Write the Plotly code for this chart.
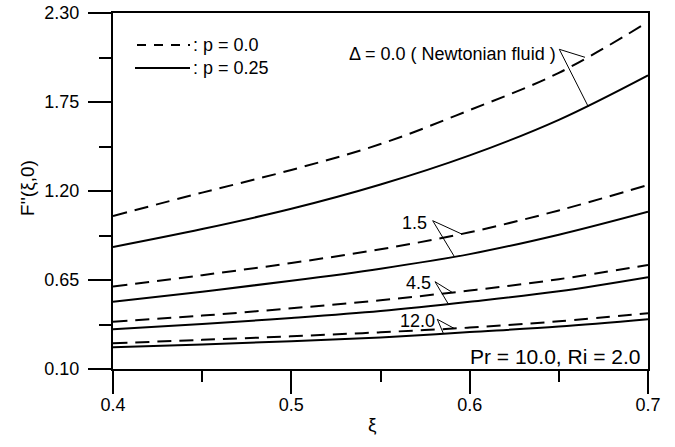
import plotly.graph_objects as go

xi = [0.40, 0.45, 0.50, 0.55, 0.60, 0.65, 0.70]

# p = 0.0 (dashed)
d00_p0 = [1.046, 1.19, 1.33, 1.49, 1.70, 1.93, 2.245]
d15_p0 = [0.609, 0.68, 0.755, 0.84, 0.945, 1.08, 1.237]
d45_p0 = [0.392, 0.43, 0.475, 0.525, 0.585, 0.655, 0.743]
d12_p0 = [0.259, 0.28, 0.302, 0.327, 0.356, 0.395, 0.444]

# p = 0.25 (solid)
d00_p25 = [0.854, 0.965, 1.09, 1.24, 1.42, 1.64, 1.915]
d15_p25 = [0.516, 0.578, 0.645, 0.72, 0.81, 0.93, 1.072]
d45_p25 = [0.345, 0.378, 0.415, 0.458, 0.515, 0.58, 0.667]
d12_p25 = [0.234, 0.252, 0.272, 0.295, 0.328, 0.362, 0.407]

y_ticks = [0.10, 0.65, 1.20, 1.75, 2.30]
x_ticks = [0.4, 0.5, 0.6, 0.7]

FONT = "Liberation Sans, Arial, Helvetica, sans-serif"
W, H = 675, 447
L, R, T, B = 113, 648, 13, 369

def px(x):
    return (x - L) / (R - L)

def py(y):
    return (B - y) / (B - T)

def dx(x):
    return 0.4 + (x - L) / (R - L) * 0.3

def dy(y):
    return 0.10 + (B - y) / (B - T) * 2.2

fig = go.Figure()
dash = "14px,8px"
for ys in [d00_p0, d15_p0, d45_p0, d12_p0]:
    fig.add_trace(go.Scatter(x=xi, y=ys, mode="lines", line=dict(color="black", width=2, dash=dash, shape="spline"), showlegend=False, hoverinfo="skip"))
for ys in [d00_p25, d15_p25, d45_p25, d12_p25]:
    fig.add_trace(go.Scatter(x=xi, y=ys, mode="lines", line=dict(color="black", width=2, shape="spline"), showlegend=False, hoverinfo="skip"))

shapes = []
# leader lines (pixel coords -> data)
leaders = [
    ((559.3, 49.3), (585, 57.3), (588.3, 106.7)),
    ((432.7, 220.7), (461.7, 234), (454, 256)),
    ((435, 281.7), (452.7, 292.7), (448.3, 304)),
    ((437.3, 319.3), (454, 328.3), (443.3, 333.3)),
]
for o, a, b in leaders:
    for e in (a, b):
        shapes.append(dict(type="line", xref="x", yref="y", x0=dx(o[0]), y0=dy(o[1]), x1=dx(e[0]), y1=dy(e[1]), line=dict(color="black", width=1)))

# legend samples
shapes.append(dict(type="line", xref="paper", yref="paper", x0=px(137), x1=px(190), y0=py(45), y1=py(45), line=dict(color="black", width=2, dash="9px,8px")))
shapes.append(dict(type="line", xref="paper", yref="paper", x0=px(135), x1=px(190), y0=py(68), y1=py(68), line=dict(color="black", width=2)))

ann = []
def text(s, x, y, xa="left", size=18, angle=0):
    ann.append(dict(text=s, xref="paper", yref="paper", x=px(x), y=py(y), xanchor=xa, yanchor="middle", showarrow=False, textangle=angle, font=dict(family=FONT, size=size, color="black")))

text(": p = 0.0", 191, 45)
text(": p = 0.25", 191, 68)
text("Δ = 0.0 ( Newtonian fluid )", 558, 54, xa="right")
text("1.5", 429, 223, xa="right")
text("4.5", 433, 283, xa="right")
text("12.0", 437, 321, xa="right")
text("Pr = 10.0, Ri = 2.0", 642, 356, xa="right", size=21)
text("F''(ξ,0)", 27, 188, xa="center", size=19, angle=-90)
text("ξ", 372, 424, xa="center", size=19)

axis_common = dict(showgrid=False, zeroline=False, showline=True, linecolor="black", linewidth=2, mirror=True,
                   ticks="outside", ticklen=23, tickwidth=2, tickcolor="black",
                   tickfont=dict(family=FONT, size=18, color="black"))

fig.update_layout(
    width=W, height=H,
    margin=dict(l=L, r=W - R, t=T, b=H - B, autoexpand=False),
    paper_bgcolor="white", plot_bgcolor="white",
    xaxis=dict(range=[0.4, 0.7], tickvals=x_ticks, ticktext=[f"{v:.1f}" for v in x_ticks],
               minor=dict(ticks="outside", ticklen=11, tickwidth=2, tickcolor="black", dtick=0.05, tick0=0.4, showgrid=False),
               ticklabelstandoff=-5, **axis_common),
    yaxis=dict(range=[0.10, 2.30], tickvals=y_ticks, ticktext=[f"{v:.2f}" for v in y_ticks],
               minor=dict(ticks="outside", ticklen=12, tickwidth=2, tickcolor="black", dtick=0.275, tick0=0.1, showgrid=False),
               ticklabelstandoff=5, **axis_common),
    shapes=shapes, annotations=ann, showlegend=False,
)

fig.write_html("out.html", config={"displayModeBar": False}, post_script="document.body.style.margin='0px';")
